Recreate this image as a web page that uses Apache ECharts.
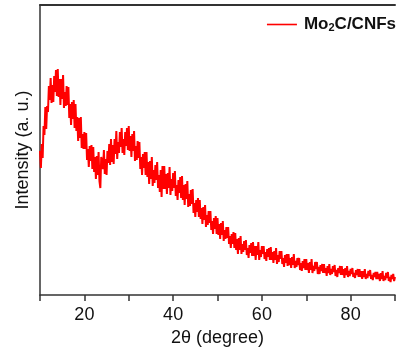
<!DOCTYPE html>
<html>
<head>
<meta charset="utf-8">
<script src="https://cdn.jsdelivr.net/npm/echarts@6/dist/echarts.min.js"></script>
<style>
  html, body { margin: 0; padding: 0; background: #fff; }
  #chart-container { width: 398px; height: 354px; }
</style>
</head>
<body>
<div id="chart-container"></div>
<script>
// XRD pattern, measured from 10 to 90 degrees in 0.2 degree steps
var startAngle = 10;
var stepAngle = 0.2;

var tickLabels = [20, 40, 60, 80];

// intensity (a. u.), one row of 5 points per degree
var intensity = [
  144,127,151,137,169, 160,188,166,189,183, 209,195,217,192,210, 193,219,203,225,199,
  226,198,216,190,216, 196,220,187,203,189, 209,190,208,177,191, 170,193,176,195,167,
  191,164,178,154,177, 157,178,147,161,146, 163,146,162,135,146, 128,149,134,150,126,
  148,123,138,116,139, 120,143,114,107,138, 140,126,145,121,136, 120,144,132,151,130,
  156,133,150,131,156, 141,164,136,153,142, 163,148,167,142,156, 140,163,149,167,145,
  169,144,159,138,161, 144,164,134,149,135, 154,137,153,126,138, 120,141,127,143,120,
  143,118,133,111,134, 116,138,109,125,112, 130,115,133,107,120, 103,125,98,129,106,
  129,106,121,101,122, 107,128,100,116,104, 122,107,124,99,110,  95,115,102,118,97,
  119,95,110,90,111,   96,114,88,101,89,    105,91,106,82,92,    78,95,83,97,78,
  95,76,87,71,88,      75,90,68,80,70,      84,72,84,65,74,      61,77,66,79,61,
  77,60,71,56,72,      60,74,54,65,56,      68,57,68,51,59,      47,61,51,63,47,
  62,45,56,41,57,      45,59,41,51,43,      54,45,55,40,47,      37,50,42,52,39,
  53,39,49,35,49,      40,53,35,45,38,      49,41,49,36,43,      34,46,38,47,35,
  48,35,43,32,44,      35,47,31,40,33,      44,36,44,31,37,      28,40,32,41,29,
  41,30,37,27,38,      30,41,27,34,28,      37,30,37,25,32,      24,34,27,36,25,
  36,25,32,22,33,      25,36,22,29,24,      33,26,33,21,28,      21,30,24,31,22,
  31,22,27,19,29,      22,31,20,26,21,      29,23,30,19,25,      18,27,22,29,20,
  29,20,26,17,27,      20,29,18,24,19,      26,21,27,18,22,      17,25,20,26,18,
  26,18,24,16,24,      18,26,16,21,17,      24,19,25,16,20,      15,22,18,23,16,
  23,16,21,14,22,      16,24,14,19,15,      22,17,23,14,18,      13,20,16,21,14,
  18
];

var seriesData = intensity.map(function (v, i) {
  return [+(startAngle + i * stepAngle).toFixed(1), v];
});

var chartDom = document.getElementById("chart-container");
var myChart = echarts.init(chartDom);

var axisColor = "#333";
var font = "Liberation Sans, Arial, sans-serif";

var option = {
  animation: false,
  grid: { left: 40, right: 0, top: 5, bottom: 59 },
  legend: {
    right: 2,
    top: 16,
    padding: 0,
    icon: "rect",
    itemWidth: 30,
    itemHeight: 1.6,
    itemStyle: { color: "#ff0000" },
    formatter: function () {
      return "{a|Mo}{s|2}{a|C/CNFs}";
    },
    textStyle: {
      padding: [0, 0, 0, 2],
      rich: {
        a: { fontSize: 17, fontWeight: "bold", color: "#111", fontFamily: font },
        s: { fontSize: 11, fontWeight: "bold", color: "#111", fontFamily: font, padding: [7, 0, 0, 0] }
      }
    }
  },
  xAxis: [
    {
      // main bottom axis: labels and long ticks
      type: "value",
      min: 10,
      max: 90,
      interval: 10,
      name: "2θ (degree)",
      nameLocation: "middle",
      nameGap: 34,
      nameTextStyle: { fontSize: 18, color: "#111", fontFamily: font },
      axisLine: { lineStyle: { color: axisColor, width: 1.5 } },
      axisTick: {
        show: true,
        length: 6,
        lineStyle: { color: axisColor, width: 1.5 },
        interval: function (i, v) { return tickLabels.indexOf(v) >= 0; }
      },
      axisLabel: {
        margin: 11,
        fontSize: 18,
        color: "#111",
        fontFamily: font,
        formatter: function (v) {
          return tickLabels.indexOf(v) >= 0 ? String(v) : "";
        }
      },
      splitLine: { show: false }
    },
    {
      // top frame line
      type: "value",
      position: "top",
      min: 10,
      max: 90,
      axisLine: { show: true, onZero: false, lineStyle: { color: axisColor, width: 2 } },
      axisTick: { show: false },
      axisLabel: { show: false },
      splitLine: { show: false }
    },
    {
      // short ticks every 10 degrees
      type: "value",
      position: "bottom",
      min: 10,
      max: 90,
      interval: 10,
      axisLine: { show: false, onZero: false },
      axisTick: { show: true, length: 3, lineStyle: { color: axisColor, width: 1.5 } },
      axisLabel: { show: false },
      splitLine: { show: false }
    }
  ],
  yAxis: {
    type: "value",
    min: 0,
    max: 290,
    name: "Intensity (a. u.)",
    nameLocation: "middle",
    nameGap: 8,
    nameTextStyle: { fontSize: 18, color: "#111", fontFamily: font },
    axisLine: { show: true, lineStyle: { color: axisColor, width: 1.5 } },
    axisTick: { show: false },
    axisLabel: { show: false },
    splitLine: { show: false }
  },
  series: [
    {
      name: "Mo2C/CNFs",
      type: "line",
      data: seriesData,
      symbol: "none",
      lineStyle: { color: "#ff0000", width: 2 },
      itemStyle: { color: "#ff0000" }
    }
  ]
};

option && myChart.setOption(option);
</script>
</body>
</html>
